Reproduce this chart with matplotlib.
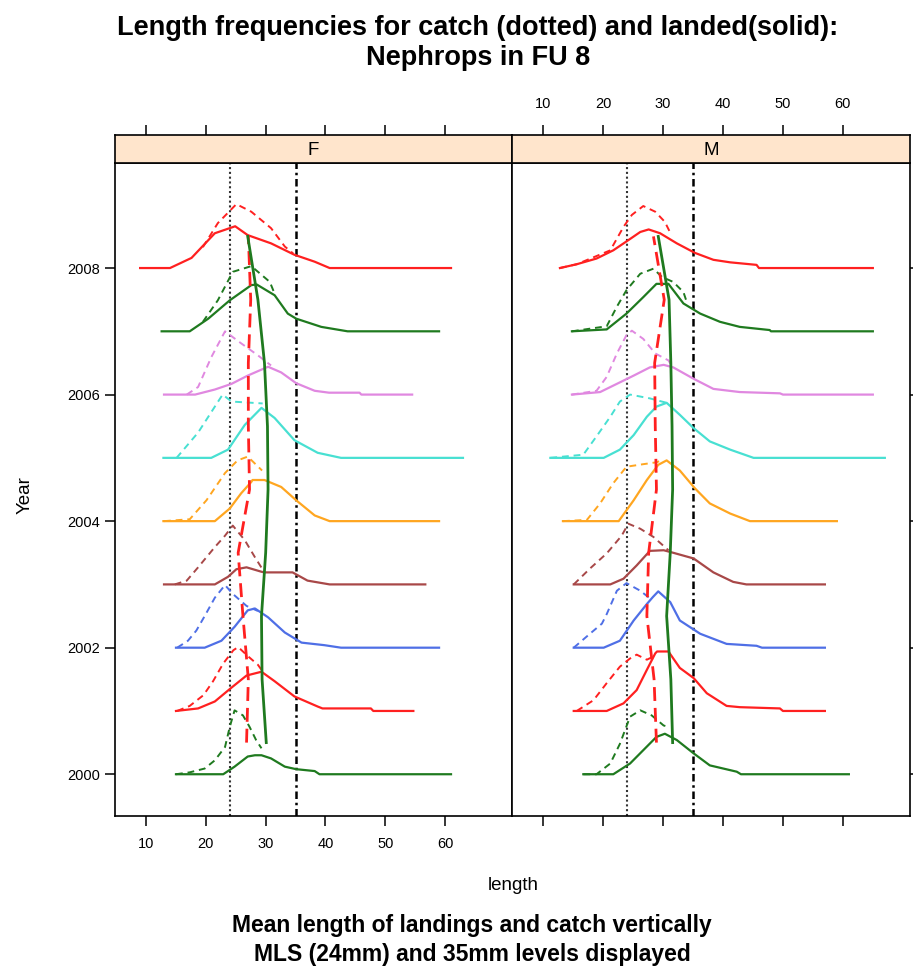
import numpy as np
import matplotlib
matplotlib.use('Agg')
import matplotlib.pyplot as plt

plt.rcParams['font.family'] = ['Liberation Sans', 'DejaVu Sans']

years = np.arange(2000, 2009)
colours = ['#1f7a1f', '#ff2020', '#4f6fe6', '#a84848', '#ffa620', '#48e0d2', '#e088e0',
           '#1f7a1f', '#ff2020']
mls = 24
upper = 35

# landed (solid) curves, (length, height above the year line), one list per year
F_landed = [
  [(15,0),(22.9,0),(24.8,0.12),(27,0.28),(28.2,0.3),(29.3,0.3),(30.9,0.25),(33.2,0.12),(35.1,0.08),(38.2,0.05),(39,0),(61,0)],
  [(15,0),(18.7,0.04),(21.5,0.15),(24.3,0.37),(26.8,0.56),(29.3,0.62),(31.5,0.47),(34.8,0.23),(38.7,0.07),(39.5,0.04),(47.6,0.04),(48,0),(54.7,0)],
  [(15,0),(19.8,0),(22.6,0.11),(24.8,0.33),(27,0.59),(28.2,0.62),(30.4,0.48),(33.2,0.24),(36,0.08),(39.8,0.04),(42.6,0),(59,0)],
  [(13,0),(21.5,0),(23.7,0.12),(25.1,0.24),(26.8,0.27),(29.3,0.2),(29.8,0.19),(34.5,0.19),(37,0.06),(40.7,0),(56.7,0)],
  [(12.9,0),(21.5,0),(24,0.2),(25.9,0.44),(27.6,0.62),(27.8,0.65),(29.8,0.65),(32.6,0.54),(35.1,0.33),(38.2,0.09),(40.7,0),(59,0)],
  [(12.9,0),(20.9,0),(23.7,0.13),(26.5,0.52),(29.3,0.79),(31.5,0.63),(34.8,0.28),(38.7,0.08),(42.6,0),(63,0)],
  [(13,0),(18.2,0),(21.5,0.08),(24.3,0.17),(27,0.3),(30.4,0.44),(32.6,0.35),(35.1,0.18),(38.2,0.06),(40.6,0.03),(45.7,0.03),(46,0),(54.5,0)],
  [(12.6,0),(17.3,0),(20.4,0.2),(24,0.49),(27.6,0.73),(28.5,0.74),(31.5,0.57),(33.7,0.28),(35.1,0.2),(39.3,0.07),(43.7,0),(59,0)],
  [(9,0),(14,0),(17.6,0.16),(21.5,0.55),(24.9,0.66),(27,0.52),(30.9,0.39),(34.8,0.21),(38.2,0.1),(40.7,0),(61,0)],
]
M_landed = [
  [(16.7,0),(21.7,0),(24.5,0.17),(26.7,0.38),(28.9,0.59),(30.3,0.64),(32.3,0.54),(35.1,0.33),(37.8,0.14),(42.3,0.04),(43,0),(61,0)],
  [(15.1,0),(20.6,0),(23.4,0.12),(25.6,0.33),(27.3,0.65),(28.7,0.91),(29,0.94),(30.9,0.94),(32.8,0.68),(35.1,0.52),(37.3,0.28),(40.6,0.08),(42.8,0.06),(49.5,0.04),(50,0),(57,0)],
  [(15.1,0),(20.1,0),(22.8,0.11),(25.1,0.43),(27.3,0.69),(28.3,0.8),(29.2,0.89),(31.2,0.72),(32.8,0.43),(36.2,0.22),(40.6,0.06),(45.6,0.03),(46.5,0),(57,0)],
  [(15.1,0),(21.2,0),(23.4,0.09),(25.6,0.3),(27.8,0.53),(30.1,0.54),(31.7,0.5),(35.1,0.41),(38.4,0.19),(41.7,0.04),(43.9,0),(57,0)],
  [(13.3,0),(22.6,0),(25.1,0.33),(27.3,0.65),(29.2,0.89),(30.6,0.96),(32.8,0.8),(35.3,0.52),(37.8,0.28),(41.2,0.12),(44.5,0),(59,0)],
  [(11.2,0),(20.1,0),(22.8,0.13),(25.1,0.36),(27.3,0.65),(28.9,0.81),(30.6,0.87),(32.8,0.68),(35.1,0.47),(37.8,0.26),(41.2,0.13),(45.1,0),(67,0)],
  [(14.8,0),(19.5,0.04),(22.3,0.17),(25.1,0.3),(27.8,0.43),(30.1,0.47),(31.7,0.43),(35.1,0.25),(38.4,0.09),(42.8,0.04),(49.5,0.02),(50,0),(65,0)],
  [(14.8,0),(20.6,0.03),(23.9,0.28),(26.7,0.54),(28.9,0.75),(30.9,0.75),(33.4,0.44),(36.2,0.28),(39.5,0.15),(42.8,0.07),(47.8,0.02),(48,0),(65,0)],
  [(12.8,0),(15.6,0.06),(18.9,0.15),(21.7,0.28),(24.2,0.44),(26.2,0.57),(27.6,0.61),(29.5,0.55),(32.3,0.39),(35.3,0.24),(38.4,0.13),(41.2,0.09),(45.6,0.05),(46,0),(65,0)],
]

# catch (dashed) curves
F_catch = [
  [(15,0),(17.3,0.03),(19.8,0.09),(21.5,0.22),(23.2,0.43),(24,0.75),(24.8,1.01),(26.2,0.93),(27.3,0.75),(28.4,0.54),(29.3,0.41)],
  [(15.2,0),(17.3,0.08),(19.6,0.25),(21.2,0.47),(22.9,0.75),(24.6,0.96),(25.4,1.01),(27.1,0.86),(28.7,0.73),(29.3,0.65)],
  [(15.2,0),(17,0.11),(18.4,0.27),(19.8,0.5),(21.5,0.79),(23.2,0.99),(24.5,0.85),(26.8,0.66),(28.7,0.58)],
  [(14.8,0),(16.8,0.06),(18.7,0.27),(21.5,0.59),(23.2,0.77),(24.5,0.93),(26.5,0.7),(28.2,0.43),(29.6,0.22)],
  [(13,0),(17.3,0.03),(20.1,0.33),(23.2,0.76),(25.3,0.96),(27,1.02),(29.4,0.8)],
  [(15.1,0),(18.7,0.4),(21.5,0.81),(22.8,1.0),(24.3,0.89),(29.5,0.86)],
  [(16.8,0),(18.7,0.12),(20.9,0.59),(23.2,1.0),(25.9,0.81),(28.7,0.62),(30.9,0.46)],
  [(19.5,0.15),(22,0.49),(24.5,0.94),(27.6,1.03),(30.7,0.78),(31.6,0.57)],
  [(19.5,0.33),(22,0.71),(25.1,1.01),(27.6,0.89),(30.9,0.63),(33.2,0.34),(34.6,0.23)],
]
M_catch = [
  [(16.7,0),(18.9,0),(21.2,0.17),(22.8,0.48),(24.5,0.91),(26.2,1.01),(28.1,0.93),(30.1,0.77),(30.9,0.75)],
  [(15.6,0),(18.4,0.17),(20.6,0.44),(22.8,0.7),(24.5,0.83),(25.6,0.89),(27.3,0.81),(28.6,0.87)],
  [(15.1,0),(17.8,0.22),(19.8,0.38),(20.6,0.53),(22.3,0.9),(23.9,1.02),(26.2,0.9),(27.8,0.78)],
  [(15.1,0),(17.8,0.25),(20.6,0.49),(23.1,0.77),(24.2,0.96),(26.2,0.88),(28.4,0.75),(30.3,0.59),(30.9,0.54)],
  [(13.3,0),(17.3,0.02),(19.5,0.28),(21.7,0.6),(23.9,0.86),(26.7,0.9),(28.9,0.93),(30,0.97)],
  [(11.2,0),(16.7,0.05),(18.9,0.34),(21.2,0.65),(22.8,0.89),(24.5,1.0),(27.8,0.94),(30.6,0.87)],
  [(14.8,0),(18.9,0.06),(20.6,0.28),(22.3,0.65),(23.9,0.94),(24.8,1.01),(26.7,0.88),(28.7,0.65),(30.9,0.54),(31.5,0.45)],
  [(14.8,0),(20.6,0.08),(22.3,0.39),(23.9,0.65),(26.2,0.91),(28.4,0.99),(29.8,0.86),(31.7,0.78),(33.4,0.62),(34,0.45)],
  [(12.8,0),(15.6,0.06),(21.2,0.28),(23.4,0.65),(24.8,0.84),(26.7,0.98),(28.7,0.89),(30.3,0.73),(31.4,0.52)],
]

# mean lengths per year (landed solid green, catch dashed red)
F_mean_landed = [30.1, 29.4, 29.3, 30.0, 30.4, 30.3, 29.8, 28.7, 27.0]
F_mean_catch = [26.8, 27.1, 26.2, 25.4, 27.3, 27.1, 27.1, 27.5, 27.1]
M_mean_landed = [31.6, 31.3, 30.6, 31.2, 31.6, 31.5, 31.3, 31.0, 29.2]
M_mean_catch = [28.9, 28.5, 27.3, 27.6, 28.9, 28.7, 28.6, 30.2, 28.4]

xticks = [10, 20, 30, 40, 50, 60]
yticks = [2000, 2002, 2004, 2006, 2008]

W, H = 913, 973
fig = plt.figure(figsize=(W/100, H/100), dpi=100)

def box(x0, y0, x1, y1):
  return [x0/W, 1 - y1/H, (x1 - x0)/W, (y1 - y0)/H]

axF = fig.add_axes(box(115, 163, 512, 816))
axM = fig.add_axes(box(512, 163, 910, 816))
stF = fig.add_axes(box(115, 135, 512, 163))
stM = fig.add_axes(box(512, 135, 910, 163))

xlim = (4.8, 71.2)
ylim = (1999.34, 2009.66)

def draw_panel(ax, landed, catch, mean_l, mean_c):
  ax.axvline(mls, color='#333333', lw=1.5, ls=(0, (1, 1.3)), zorder=1)
  ax.axvline(upper, color='black', lw=1.8, ls=(0, (3, 1.5, 1, 1.5)), zorder=1)
  for i, yr in enumerate(years):
    col = colours[i]
    L, h = zip(*landed[i])
    ax.plot(L, yr + np.array(h), color=col, lw=1.6, zorder=2)
    L, h = zip(*catch[i])
    ax.plot(L, yr + np.array(h), color=col, lw=1.4, dashes=(3.5, 2.5), zorder=2)
  ax.plot(mean_c, years + 0.5, color='#ff2020', lw=2.0, dashes=(5, 2.5), zorder=3)
  ax.plot(mean_l, years + 0.5, color='#1f7a1f', lw=2.0, zorder=3)
  ax.set_xlim(xlim)
  ax.set_ylim(ylim)
  for s in ax.spines.values():
    s.set_linewidth(1.2)

draw_panel(axF, F_landed, F_catch, F_mean_landed, F_mean_catch)
draw_panel(axM, M_landed, M_catch, M_mean_landed, M_mean_catch)

tick_kw = dict(direction='out', length=7, width=1.1, labelsize=10.5)
axF.set_xticks(xticks)
axF.set_yticks(yticks)
axF.tick_params(axis='both', **tick_kw)
axF.tick_params(axis='x', top=False, pad=8)
axF.tick_params(axis='y', right=False, pad=4)

axM.set_xticks(xticks)
axM.set_yticks(yticks)
axM.tick_params(axis='both', **tick_kw)
axM.tick_params(axis='x', labelbottom=False)
axM.tick_params(axis='y', left=False, labelleft=False, right=True, labelright=False)

for st, lab, show in ((stF, 'F', False), (stM, 'M', True)):
  st.set_facecolor('#ffe5cc')
  st.set_xlim(xlim)
  st.set_ylim(0, 1)
  st.set_xticks(xticks)
  st.set_yticks([])
  st.tick_params(axis='x', bottom=False, labelbottom=False, top=True, labeltop=show,
                 direction='out', length=7, width=1.1, labelsize=10.5, pad=10)
  st.text(0.5, 0.45, lab, transform=st.transAxes, ha='center', va='center', fontsize=13.5)
  for s in st.spines.values():
    s.set_linewidth(1.2)

fig.text(25/W, 1 - 495/H, 'Year', rotation=90, ha='center', va='center', fontsize=13.5)
fig.text(513/W, 1 - 885/H, 'length', ha='center', va='center', fontsize=13.5)
fig.text(478/W, 1 - 43/H, 'Length frequencies for catch (dotted) and landed(solid):\nNephrops in FU 8',
         ha='center', va='center', fontsize=19.5, fontweight='bold', linespacing=1.18)
fig.text(472/W, 1 - 940/H, 'Mean length of landings and catch vertically\nMLS (24mm) and 35mm levels displayed',
         ha='center', va='center', fontsize=16.5, fontweight='bold', linespacing=1.28)

fig.savefig('out.png', dpi=100)
